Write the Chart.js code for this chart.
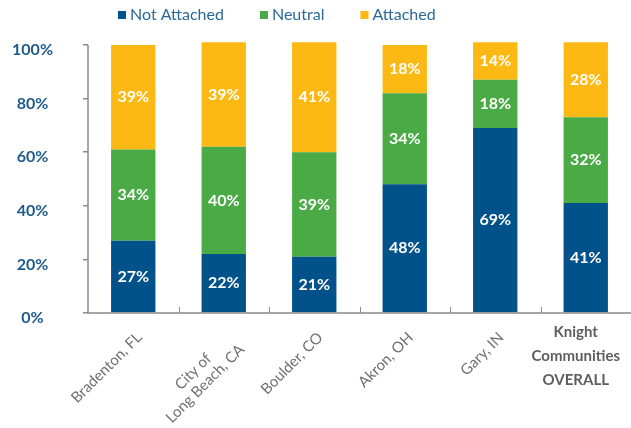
<!DOCTYPE html>
<html>
<head>
<meta charset="utf-8">
<script src="https://cdn.jsdelivr.net/npm/chart.js@4/dist/chart.umd.min.js"></script>
<style>
  html, body { margin: 0; padding: 0; background: #fff; }
  #wrap { width: 631px; height: 428px; }
</style>
</head>
<body>
<div id="wrap"><canvas id="chartAttachment"></canvas></div>
<script>
const categories = [["Bradenton, FL"], ["City of", "Long Beach, CA"], ["Boulder, CO"], ["Akron, OH"], ["Gary, IN"], ["Knight", "Communities", "OVERALL"]];
const notAttached = [27, 22, 21, 48, 69, 41];
const neutral = [34, 40, 39, 34, 18, 32];
const attached = [39, 39, 41, 18, 14, 28];
const yTicks = [0, 20, 40, 60, 80, 100];
const seriesNames = ["Not Attached", "Neutral", "Attached"];
const seriesColors = ["#01518a", "#4aaa46", "#fdb913"];

const FONT = "Lato, 'Open Sans', sans-serif";
const BLUE_TEXT = "#1c5b8c";

// legend drawn on top, spaced like the original
const legendPlugin = {
    id: 'topLegend',
    afterDraw(chart) {
        const ctx = chart.ctx;
        ctx.save();
        ctx.font = "16px " + FONT;
        ctx.textBaseline = 'middle';
        ctx.textAlign = 'left';
        let x = 118;
        const y = 15;
        chart.data.datasets.forEach(ds => {
            ctx.fillStyle = ds.backgroundColor;
            ctx.fillRect(x, y - 4, 8, 8);
            ctx.fillStyle = '#2a6898';
            ctx.fillText(ds.label, x + 12, y);
            x += 12 + ctx.measureText(ds.label).width + 36;
        });
        ctx.restore();
    }
};

const axesPlugin = {
    id: 'axesAndLabels',
    afterDatasetsDraw(chart) {
        const ctx = chart.ctx;
        const xs = chart.scales.x;
        const ys = chart.scales.y;
        const area = chart.chartArea;
        ctx.save();

        // axis lines
        ctx.strokeStyle = '#8a8a8a';
        ctx.lineWidth = 1.5;
        ctx.beginPath();
        ctx.moveTo(area.left, ys.getPixelForValue(100));
        ctx.lineTo(area.left, ys.getPixelForValue(0));
        ctx.lineTo(area.right, ys.getPixelForValue(0));
        ctx.stroke();

        // small marks between categories, pointing up
        const step = xs.getPixelForValue(1) - xs.getPixelForValue(0);
        ctx.lineWidth = 1;
        for (let i = 1; i < categories.length; i++) {
            const bx = Math.round(xs.getPixelForValue(i) - step / 2) + 0.5;
            ctx.beginPath();
            ctx.moveTo(bx, ys.getPixelForValue(0));
            ctx.lineTo(bx, ys.getPixelForValue(0) - 6);
            ctx.stroke();
        }

        // values inside the segments
        ctx.fillStyle = '#ffffff';
        ctx.font = "bold 16px " + FONT;
        ctx.textAlign = 'center';
        ctx.textBaseline = 'middle';
        chart.data.datasets.forEach((ds, d) => {
            chart.getDatasetMeta(d).data.forEach((el, i) => {
                ctx.fillText(ds.data[i] + '%', el.x, (el.y + el.base) / 2);
            });
        });

        // category labels
        const base = ys.getPixelForValue(0);
        categories.forEach((lines, i) => {
            const cx = xs.getPixelForValue(i);
            if (i === categories.length - 1) {
                ctx.fillStyle = '#5e5e5e';
                ctx.font = "bold 15px " + FONT;
                ctx.textAlign = 'center';
                lines.forEach((t, j) => ctx.fillText(t, cx - 10, base + 19 + j * 24));
                return;
            }
            ctx.fillStyle = '#707070';
            ctx.font = "15px " + FONT;
            const w = Math.max(...lines.map(t => ctx.measureText(t).width));
            ctx.save();
            ctx.translate(cx + 6, base + 22);
            ctx.rotate(-Math.PI / 4);
            ctx.textAlign = 'center';
            lines.forEach((t, j) => ctx.fillText(t, -w / 2, j * 17));
            ctx.restore();
        });
        ctx.restore();
    }
};

new Chart("chartAttachment", {
    type: "bar",
    data: {
        labels: categories.map(c => c.join(' ')),
        datasets: [
            { label: seriesNames[0], data: notAttached, backgroundColor: seriesColors[0] },
            { label: seriesNames[1], data: neutral, backgroundColor: seriesColors[1] },
            { label: seriesNames[2], data: attached, backgroundColor: seriesColors[2] }
        ]
    },
    options: {
        responsive: true,
        maintainAspectRatio: false,
        animation: false,
        layout: { padding: { top: 37, right: 0, left: 0, bottom: 0 } },
        datasets: { bar: { categoryPercentage: 1, barPercentage: 0.49 } },
        plugins: {
            legend: { display: false },
            tooltip: { enabled: false }
        },
        scales: {
            x: {
                stacked: true,
                grid: { display: false },
                border: { display: false },
                ticks: { display: false },
                afterFit: axis => { axis.height = 115; }
            },
            y: {
                stacked: true,
                min: 0,
                max: 102,
                afterBuildTicks: axis => { axis.ticks = yTicks.map(v => ({ value: v })); },
                grid: { drawOnChartArea: false, tickLength: 5, color: '#8a8a8a', lineWidth: 1.5 },
                border: { display: false },
                ticks: {
                    callback: v => v + '%',
                    color: BLUE_TEXT,
                    font: { family: FONT, size: 16, weight: 'bold' },
                    crossAlign: 'center',
                    padding: 30,
                    labelOffset: 5
                },
                afterFit: axis => { axis.width = 88; }
            }
        }
    },
    plugins: [legendPlugin, axesPlugin]
});
</script>
</body>
</html>
